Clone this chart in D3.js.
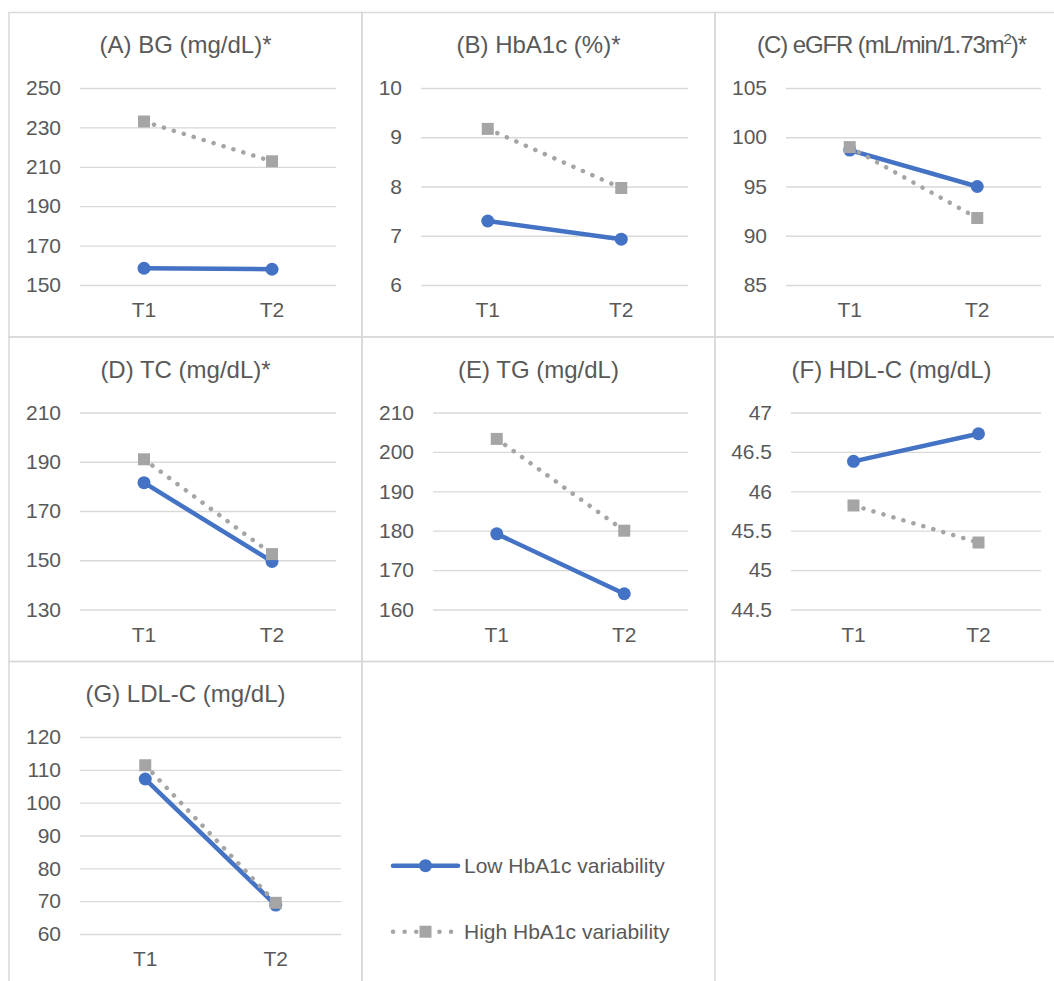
<!DOCTYPE html>
<html>
<head>
<meta charset="utf-8">
<script src="https://cdn.jsdelivr.net/npm/d3@7/dist/d3.min.js"></script>
<style>
  html, body { margin: 0; padding: 0; background: #ffffff; }
  svg { display: block; font-family: "Liberation Sans", Arial, Helvetica, sans-serif; }
</style>
</head>
<body>
<svg id="chart" width="1054" height="981"></svg>
<script>
// Time points shared by every panel
const categories = ["T1", "T2"];

// Panel titles
const panelTitles = [
  "(A) BG (mg/dL)*",
  "(B) HbA1c (%)*",
  "(C) eGFR (mL/min/1.73m²)*",
  "(D) TC (mg/dL)*",
  "(E) TG (mg/dL)",
  "(F) HDL-C (mg/dL)",
  "(G) LDL-C (mg/dL)"
];

// Mean values at T1 and T2, one pair per panel
const lowVariability  = [[158.5, 158.0], [7.30, 6.93], [98.7, 95.0], [181.5, 149.5], [179.2, 164.0], [46.38, 46.73], [107.2, 68.8]];
const highVariability = [[233.0, 212.8], [9.17, 7.97], [99.0, 91.8], [191.0, 152.5], [203.3, 180.0], [45.82, 45.35], [111.4, 69.5]];

// Y-axis tick labels per panel
const yTicks = [
  [150, 170, 190, 210, 230, 250],
  [6, 7, 8, 9, 10],
  [85, 90, 95, 100, 105],
  [130, 150, 170, 190, 210],
  [160, 170, 180, 190, 200, 210],
  [44.5, 45, 45.5, 46, 46.5, 47],
  [60, 70, 80, 90, 100, 110, 120]
];

const seriesNames = ["Low HbA1c variability", "High HbA1c variability"];

// ---- layout & style ----
const BLUE = "#4472C4", GRAY = "#A5A5A5", TEXT = "#595959", GRID = "#D9D9D9";
const colX = [9, 362, 715];
const rowY = [12.5, 337, 661.5];
const cellW = 353, cellH = 324.5;
const plotLeft  = [71, 59, 71, 71, 71, 76, 71];
const plotRight = [327, 326, 326, 327, 326, 326, 332];
const DOTS = "0.1 10.3";

const svg = d3.select("#chart");

// Cell frames (7 panels + legend cell)
const frames = [];
for (let r = 0; r < 3; r++) for (let c = 0; c < 3; c++) {
  if (r === 2 && c === 2) continue;
  frames.push([colX[c], rowY[r]]);
}
svg.append("g").selectAll("rect").data(frames).join("rect")
  .attr("x", d => d[0]).attr("y", d => d[1])
  .attr("width", cellW).attr("height", cellH)
  .attr("fill", "none").attr("stroke", GRID).attr("stroke-width", 1.5);

panelTitles.forEach((title, i) => {
  const x0 = colX[i % 3], y0 = rowY[Math.floor(i / 3)];
  const g = svg.append("g");

  const x = d3.scaleBand().domain(categories)
    .range([x0 + plotLeft[i], x0 + plotRight[i]]).padding(0);
  const cx = d => x(d) + x.bandwidth() / 2;
  const ticks = yTicks[i];
  const y = d3.scaleLinear().domain([ticks[0], ticks[ticks.length - 1]])
    .range([y0 + 272.5, y0 + 75.5]);

  // Title (superscript handled for the ² character)
  const t = g.append("text")
    .attr("x", x0 + cellW / 2).attr("y", y0 + 40.5)
    .attr("text-anchor", "middle").attr("fill", TEXT)
    .style("font-size", "24px");
  if (title.includes("²")) {
    const parts = title.split("²");
    t.style("letter-spacing", "-1.1px");
    t.append("tspan").text(parts[0]);
    t.append("tspan").attr("dy", -9).style("font-size", "15px").text("2");
    t.append("tspan").attr("dy", 9).text(parts[1]);
  } else {
    t.text(title);
  }

  // Gridlines + y tick labels
  const yAxis = d3.axisLeft(y).tickValues(ticks)
    .tickSize(-(plotRight[i] - plotLeft[i])).tickPadding(19)
    .tickFormat(d => String(d));
  const ya = g.append("g").attr("transform", `translate(${x0 + plotLeft[i]},0)`).call(yAxis);
  ya.select(".domain").remove();
  ya.selectAll(".tick line").attr("stroke", GRID).attr("stroke-width", 1.3);
  ya.selectAll(".tick text").attr("fill", TEXT)
    .style("font-size", "21px").style("font-family", "Liberation Sans, Arial, sans-serif");

  // X category labels
  const xAxis = d3.axisBottom(x).tickSize(0).tickPadding(0);
  const xa = g.append("g").attr("transform", `translate(0,${y0 + 304.5})`).call(xAxis);
  xa.select(".domain").remove();
  xa.selectAll(".tick text").attr("fill", TEXT).attr("dy", 0).attr("y", 0)
    .style("font-size", "21px").style("font-family", "Liberation Sans, Arial, sans-serif");

  const line = d3.line().x((d, k) => cx(categories[k])).y(d => y(d));

  // Low variability: solid blue with circles
  g.append("path").datum(lowVariability[i]).attr("d", line)
    .attr("fill", "none").attr("stroke", BLUE).attr("stroke-width", 4.5)
    .attr("stroke-linecap", "round");
  g.append("g").selectAll("circle").data(lowVariability[i]).join("circle")
    .attr("cx", (d, k) => cx(categories[k])).attr("cy", d => y(d))
    .attr("r", 6.5).attr("fill", BLUE);

  // High variability: gray round dots with squares
  g.append("path").datum(highVariability[i]).attr("d", line)
    .attr("fill", "none").attr("stroke", GRAY).attr("stroke-width", 4.5)
    .attr("stroke-linecap", "round").attr("stroke-dasharray", DOTS);
  g.append("g").selectAll("rect").data(highVariability[i]).join("rect")
    .attr("x", (d, k) => cx(categories[k]) - 6).attr("y", d => y(d) - 6)
    .attr("width", 12).attr("height", 12).attr("fill", GRAY);
});

// Legend
const legend = svg.append("g");
const legY = [865.7, 931.7];
const lx0 = 393, lx1 = 458, lmid = 425.5;

legend.append("line").attr("x1", lx0).attr("x2", lx1).attr("y1", legY[0]).attr("y2", legY[0])
  .attr("stroke", BLUE).attr("stroke-width", 4.5).attr("stroke-linecap", "round");
legend.append("circle").attr("cx", lmid).attr("cy", legY[0]).attr("r", 6.5).attr("fill", BLUE);

legend.append("line").attr("x1", lx0).attr("x2", lx1).attr("y1", legY[1]).attr("y2", legY[1])
  .attr("stroke", GRAY).attr("stroke-width", 4.5).attr("stroke-linecap", "round")
  .attr("stroke-dasharray", "0.1 11.5");
legend.append("rect").attr("x", lmid - 6).attr("y", legY[1] - 6)
  .attr("width", 12).attr("height", 12).attr("fill", GRAY);

legend.selectAll("text").data(seriesNames).join("text")
  .attr("x", 464).attr("y", (d, k) => legY[k] + 7.5)
  .attr("fill", TEXT).style("font-size", "21px")
  .text(d => d);
</script>
</body>
</html>
